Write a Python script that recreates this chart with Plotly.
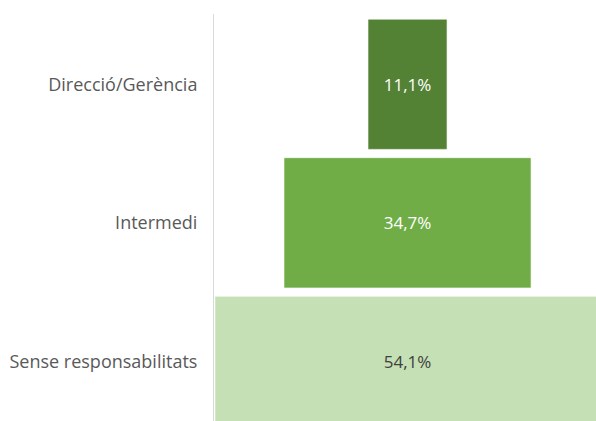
import plotly.graph_objects as go

categories = ["Direcció/Gerència", "Intermedi", "Sense responsabilitats"]
values = [11.1, 34.7, 54.1]
colors = ["#548235", "#70ad47", "#c5e0b4"]
text_colors = ["#ffffff", "#ffffff", "#404040"]

labels = [f"{v:.1f}".replace(".", ",") + "%" for v in values]

fig = go.Figure(go.Bar(
    y=categories,
    x=values,
    base=[-v / 2 for v in values],
    orientation="h",
    width=0.94,
    marker=dict(color=colors, line=dict(color="rgba(255,255,255,0.6)", width=1)),
    text=labels,
    textposition="inside",
    insidetextanchor="middle",
    textangle=0,
    textfont=dict(family="Open Sans", size=17, color=text_colors),
    hoverinfo="skip",
))

fig.update_layout(
    width=596, height=421,
    margin=dict(l=214, r=0, t=14, b=0),
    paper_bgcolor="white", plot_bgcolor="white",
    showlegend=False,
    xaxis=dict(range=[-27.18, 26.47], visible=False, fixedrange=True),
    yaxis=dict(
        type="category",
        range=[2.43, -0.507],
        showgrid=False,
        zeroline=False,
        showline=True,
        linecolor="#d9d9d9",
        linewidth=1,
        ticks="",
        ticklabelstandoff=12,
        tickfont=dict(family="Open Sans", size=18, color="#595959"),
        fixedrange=True,
    ),
)

fig.write_html(
    "out.html",
    config={"displayModeBar": False, "staticPlot": True},
    post_script="document.body.style.margin='0';document.body.style.overflow='hidden';",
)
